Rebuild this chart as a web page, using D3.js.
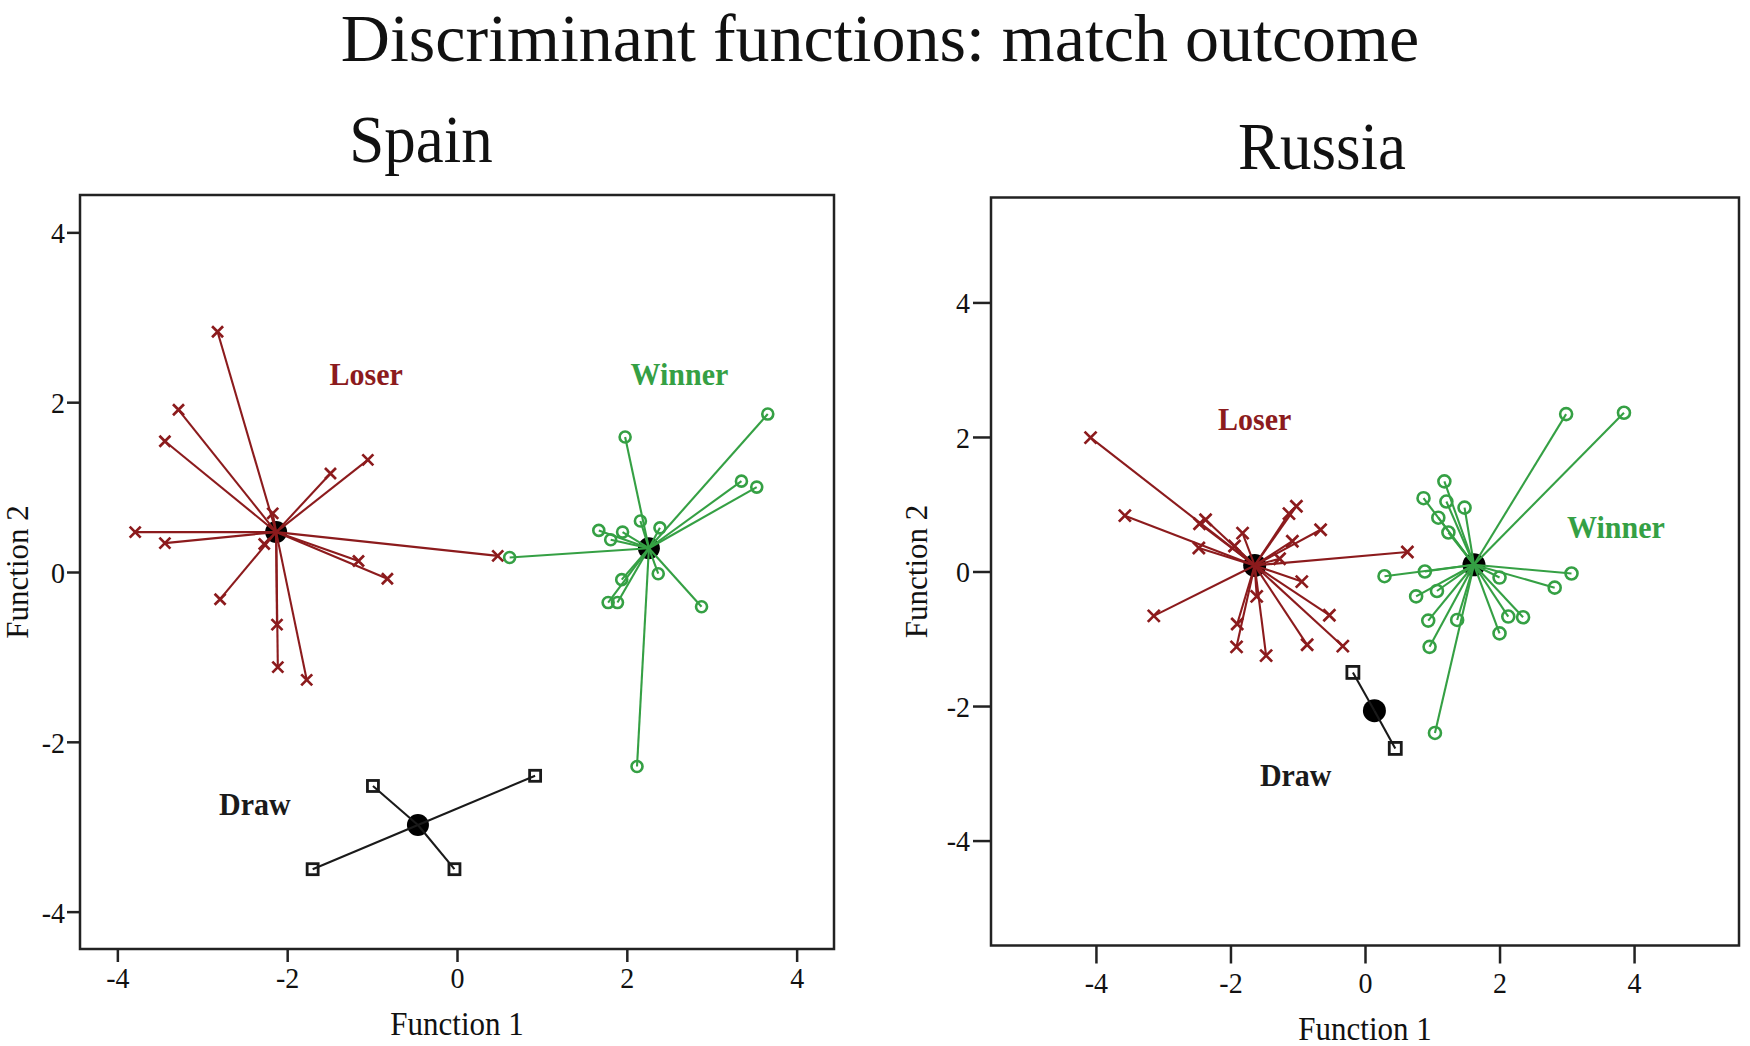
<!DOCTYPE html>
<html>
<head>
<meta charset="utf-8">
<script src="https://cdn.jsdelivr.net/npm/d3@7"></script>
<style>
  body { margin: 0; background: #fff; }
  svg { display: block; }
  text { font-family: "Liberation Serif", "Times New Roman", serif; fill: #111; }
</style>
</head>
<body>
<div id="chart"></div>
<script>
// ---- data: discriminant scores [function 1, function 2] ----
const spainLoser = [
  [-2.82, 2.83], [-3.28, 1.91], [-3.44, 1.54], [-1.49, 1.16], [-1.05, 1.32],
  [-3.79, 0.47], [-3.44, 0.34], [-2.17, 0.69], [-2.27, 0.33], [-2.79, -0.32],
  [-1.16, 0.13], [-0.82, -0.08], [-2.12, -0.62], [-2.11, -1.12], [-1.77, -1.27],
  [0.48, 0.19]
];
const spainLoserCentroid = [-2.13, 0.47];

const spainWinner = [
  [3.66, 1.86], [1.98, 1.59], [3.35, 1.07], [3.53, 1.00], [2.16, 0.60],
  [2.39, 0.52], [1.67, 0.49], [1.95, 0.47], [1.81, 0.38], [0.62, 0.17],
  [2.37, -0.02], [1.94, -0.09], [1.78, -0.36], [1.89, -0.36], [2.88, -0.41],
  [2.12, -2.29]
];
const spainWinnerCentroid = [2.26, 0.28];

const spainDraw = [[-0.99, -2.52], [0.92, -2.40], [-1.70, -3.50], [-0.03, -3.50]];
const spainDrawCentroid = [-0.46, -2.98];

const russiaLoser = [
  [-4.08, 1.99], [-3.57, 0.83], [-2.46, 0.71], [-2.37, 0.77], [-2.47, 0.35],
  [-1.94, 0.38], [-1.82, 0.57], [-1.02, 0.97], [-1.13, 0.86], [-0.66, 0.62],
  [-1.08, 0.45], [-1.27, 0.19], [0.63, 0.29], [-0.94, -0.15], [-1.61, -0.37],
  [-0.53, -0.65], [-1.90, -0.78], [-1.91, -1.12], [-1.47, -1.25], [-0.86, -1.09],
  [-0.33, -1.11], [-3.14, -0.66]
];
const russiaLoserCentroid = [-1.64, 0.09];

const russiaWinner = [
  [2.99, 2.34], [3.85, 2.36], [1.18, 1.34], [0.87, 1.09], [1.21, 1.04],
  [1.48, 0.95], [1.09, 0.80], [1.24, 0.58], [0.29, -0.07], [0.89, 0.00],
  [3.07, -0.03], [2.00, -0.09], [2.82, -0.24], [1.07, -0.29], [0.76, -0.37],
  [0.94, -0.73], [1.37, -0.72], [2.13, -0.67], [2.35, -0.68], [2.00, -0.92],
  [0.96, -1.12], [1.04, -2.40]
];
const russiaWinnerCentroid = [1.62, 0.10];

const russiaDraw = [[-0.18, -1.50], [0.45, -2.63]];
const russiaDrawCentroid = [0.14, -2.07];

const axisTicks = [-4, -2, 0, 2, 4];
const groupNames = ["Loser", "Winner", "Draw"];
const spainLabelPos = [[-1.07, 2.33], [2.62, 2.33], [-2.38, -2.73]];
const russiaLabelPos = [[-1.64, 2.27], [3.73, 0.66], [-1.03, -3.03]];

// ---- styling ----
const COLORS = { Loser: "#8c1b1d", Winner: "#35a044", Draw: "#1a1a1a" };
const SHAPES = { Loser: "cross", Winner: "circle", Draw: "square" };
const STRETCH = 1.08; // serif text in the source is slightly tall

const width = 1750, height = 1046;
const svg = d3.select("#chart").append("svg")
  .attr("width", width)
  .attr("height", height);

function addText(g, x, y, txt, size, opts = {}) {
  return g.append("text")
    .attr("transform", `translate(${x},${y}) scale(1,${opts.stretch || STRETCH})`)
    .attr("text-anchor", opts.anchor || "middle")
    .attr("dominant-baseline", opts.baseline || "auto")
    .style("font-size", size + "px")
    .style("font-weight", opts.bold ? "bold" : "normal")
    .style("fill", opts.color || "#111")
    .text(txt);
}

addText(svg, 880, 61, "Discriminant functions: match outcome", 68, { stretch: 1 });

function drawMarker(g, shape, cx, cy, s, color) {
  if (shape === "cross") {
    g.append("path")
      .attr("d", `M${cx - s},${cy - s}L${cx + s},${cy + s}M${cx - s},${cy + s}L${cx + s},${cy - s}`)
      .style("stroke", color).style("stroke-width", 2.7).style("fill", "none");
  } else if (shape === "circle") {
    g.append("circle").attr("cx", cx).attr("cy", cy).attr("r", s)
      .style("stroke", color).style("stroke-width", 2.6).style("fill", "none");
  } else {
    g.append("rect").attr("x", cx - s).attr("y", cy - s)
      .attr("width", 2 * s).attr("height", 2 * s)
      .style("stroke", color).style("stroke-width", 2.8).style("fill", "none");
  }
}

function drawPanel(cfg) {
  const x = d3.scaleLinear().domain(cfg.domain).range([cfg.left, cfg.left + cfg.size]);
  const y = d3.scaleLinear().domain(cfg.domain).range([cfg.top + cfg.size, cfg.top]);
  const g = svg.append("g");
  const bottom = cfg.top + cfg.size;

  // axes
  const xAxis = g.append("g")
    .attr("transform", `translate(0,${bottom})`)
    .call(d3.axisBottom(x).tickValues(axisTicks).tickSize(cfg.tick).tickFormat(d => String(d)));
  const yAxis = g.append("g")
    .attr("transform", `translate(${cfg.left},0)`)
    .call(d3.axisLeft(y).tickValues(axisTicks).tickSize(cfg.tick).tickFormat(d => String(d)));

  [xAxis, yAxis].forEach(a => {
    a.select(".domain").remove();
    a.selectAll(".tick line").style("stroke", "#222").style("stroke-width", 2.5);
    a.selectAll(".tick text")
      .attr("x", null).attr("y", null).attr("dy", null)
      .style("font-family", '"Liberation Serif", "Times New Roman", serif')
      .style("font-size", "28px").style("fill", "#111");
  });
  xAxis.selectAll(".tick text")
    .attr("text-anchor", "middle")
    .attr("transform", `translate(0,${cfg.xLabelOffset}) scale(1,${STRETCH})`);
  yAxis.selectAll(".tick text")
    .attr("text-anchor", "end")
    .attr("dominant-baseline", "central")
    .attr("transform", `translate(${-cfg.yLabelOffset},0) scale(1,${STRETCH})`);

  // frame
  g.append("rect")
    .attr("x", cfg.left).attr("y", cfg.top)
    .attr("width", cfg.size).attr("height", cfg.size)
    .style("fill", "none").style("stroke", "#222").style("stroke-width", 2.5);

  // titles
  addText(g, cfg.left + cfg.size / 2 + cfg.titleShift, cfg.titleBaseline, cfg.name, 63);
  addText(g, x(0), cfg.xTitleBaseline, "Function 1", 31);
  g.append("text")
    .attr("transform", `translate(${cfg.yTitleX},${y(0)}) rotate(-90)`)
    .attr("text-anchor", "middle")
    .style("font-size", "31px")
    .text("Function 2");

  // groups: centroid underneath, spokes, then markers
  const plot = g.append("g");
  cfg.groups.forEach(grp => {
    const [cx, cy] = [x(grp.centroid[0]), y(grp.centroid[1])];
    plot.append("circle").attr("cx", cx).attr("cy", cy).attr("r", cfg.centroidR)
      .style("fill", "#000");
  });
  cfg.groups.forEach(grp => {
    const color = COLORS[grp.name];
    plot.selectAll(null)
      .data(grp.points)
      .enter()
      .append("line")
      .attr("x1", x(grp.centroid[0])).attr("y1", y(grp.centroid[1]))
      .attr("x2", d => x(d[0])).attr("y2", d => y(d[1]))
      .style("stroke", color).style("stroke-width", 2.1);
  });
  cfg.groups.forEach(grp => {
    const color = COLORS[grp.name];
    grp.points.forEach(d => drawMarker(plot, SHAPES[grp.name], x(d[0]), y(d[1]), cfg.markerSize, color));
  });

  // group labels
  groupNames.forEach((name, i) => {
    const p = cfg.labelPos[i];
    addText(g, x(p[0]), y(p[1]), name, 30, {
      bold: true, color: COLORS[name], baseline: "central"
    });
  });
}

drawPanel({
  name: "Spain",
  left: 80, top: 195, size: 754, domain: [-4.44, 4.44],
  tick: 13, xLabelOffset: 39, yLabelOffset: 15,
  titleShift: -36, titleBaseline: 162,
  xTitleBaseline: 1035, yTitleX: 28,
  centroidR: 11, markerSize: 5.5,
  labelPos: spainLabelPos,
  groups: [
    { name: "Loser", points: spainLoser, centroid: spainLoserCentroid },
    { name: "Winner", points: spainWinner, centroid: spainWinnerCentroid },
    { name: "Draw", points: spainDraw, centroid: spainDrawCentroid }
  ]
});

drawPanel({
  name: "Russia",
  left: 991, top: 197.5, size: 748, domain: [-5.56, 5.56],
  tick: 18, xLabelOffset: 47, yLabelOffset: 21,
  titleShift: -43, titleBaseline: 169,
  xTitleBaseline: 1040, yTitleX: 927,
  centroidR: 11.5, markerSize: 6,
  labelPos: russiaLabelPos,
  groups: [
    { name: "Loser", points: russiaLoser, centroid: russiaLoserCentroid },
    { name: "Winner", points: russiaWinner, centroid: russiaWinnerCentroid },
    { name: "Draw", points: russiaDraw, centroid: russiaDrawCentroid }
  ]
});
</script>
</body>
</html>
